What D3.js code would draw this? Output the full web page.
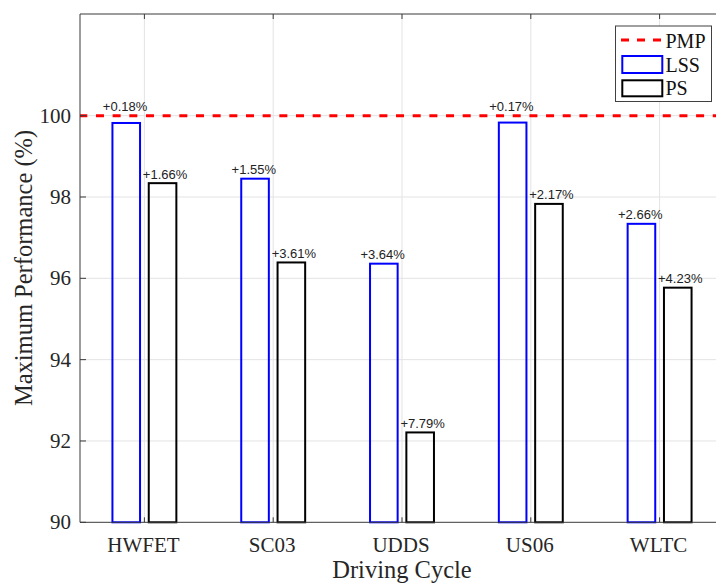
<!DOCTYPE html>
<html><head><meta charset="utf-8">
<script src="https://cdn.jsdelivr.net/npm/d3@7"></script>
<style>body{margin:0;background:#fff}svg{display:block}</style>
</head><body>
<script>
// ---- data ----
const categories = ["HWFET", "SC03", "UDDS", "US06", "WLTC"];
const lssGap = [0.18, 1.55, 3.64, 0.17, 2.66];   // % gap to PMP
const psGap  = [1.66, 3.61, 7.79, 2.17, 4.23];
const lssValues = [99.82, 98.45, 96.36, 99.83, 97.34];
const psValues  = [98.34, 96.39, 92.21, 97.83, 95.77];
const pmpValue = 100;
const yTicks = [90, 92, 94, 96, 98, 100];
const seriesNames = ["PMP", "LSS", "PS"];

const W = 716, H = 583;
const svg = d3.select("body").append("svg").attr("width", W).attr("height", H);

const x = d3.scaleLinear().domain([0.5, 5.5]).range([80, 724]);
const y = d3.scaleLinear().domain([90, 102.5]).range([522.3, 14]);
const serif = "'Liberation Serif','Times New Roman',serif";
const sans = "'Liberation Sans',Arial,sans-serif";
const axisCol = "#3a3a3a";

// grid
const g = svg.append("g");
g.selectAll("line.vg").data(categories).join("line")
  .attr("x1", (d,i)=>x(i+1)).attr("x2", (d,i)=>x(i+1))
  .attr("y1", y(90)).attr("y2", y(102.5))
  .attr("stroke", "#e3e3e3").attr("stroke-width", 1);
g.selectAll("line.hg").data(yTicks.slice(1)).join("line")
  .attr("x1", x(0.5)).attr("x2", x(5.5))
  .attr("y1", d=>y(d)).attr("y2", d=>y(d))
  .attr("stroke", "#e3e3e3").attr("stroke-width", 1);

// bars
const bw = 0.2143, off = 0.141;
const series = [
  {name:"LSS", vals:lssValues, gaps:lssGap, dx:-off, color:"#0000ff", ldx:-1.2},
  {name:"PS", vals:psValues, gaps:psGap, dx:off, color:"#000000", ldx:2.5}
];
series.forEach(s => {
  svg.append("g").selectAll("rect").data(s.vals).join("rect")
    .attr("x", (d,i)=>x(i+1+s.dx-bw/2))
    .attr("width", x(bw)-x(0))
    .attr("y", d=>y(d))
    .attr("height", d=>y(90)-y(d))
    .attr("fill", "none").attr("stroke", s.color).attr("stroke-width", 2);
});

// PMP dashed line
svg.append("line")
  .attr("x1", x(0.5)).attr("x2", x(5.5)).attr("y1", y(pmpValue)).attr("y2", y(pmpValue))
  .attr("stroke", "#ff0000").attr("stroke-width", 3)
  .attr("stroke-dasharray", "8,8.67").attr("stroke-dashoffset", 0.7);

// labels: just above each bar, lifted above the PMP line when the bar reaches it
function labelY(v) {
  const yy = y(v) - 4.5;
  return (yy > y(pmpValue) + 12) ? yy : y(pmpValue) - 4.5;
}
series.forEach(s => {
  svg.append("g").selectAll("text").data(s.vals).join("text")
    .attr("x", (d,i)=>x(i+1+s.dx)+s.ldx)
    .attr("y", d=>labelY(d))
    .attr("text-anchor", "middle")
    .attr("font-family", sans).attr("font-size", 13).attr("fill", "#222")
    .text((d,i)=>"+" + s.gaps[i].toFixed(2) + "%");
});

// axes box
svg.append("line").attr("x1", x(0.5)).attr("x2", x(5.5)).attr("y1", y(90)).attr("y2", y(90)).attr("stroke", axisCol);
svg.append("line").attr("x1", x(0.5)).attr("x2", x(5.5)).attr("y1", y(102.5)).attr("y2", y(102.5)).attr("stroke", axisCol);
svg.append("line").attr("x1", x(0.5)).attr("x2", x(0.5)).attr("y1", y(90)).attr("y2", y(102.5)).attr("stroke", axisCol);

// ticks (inward)
svg.append("g").selectAll("line").data(yTicks).join("line")
  .attr("x1", x(0.5)).attr("x2", x(0.5)+6).attr("y1", d=>y(d)).attr("y2", d=>y(d)).attr("stroke", axisCol);
svg.append("g").selectAll("line").data(categories).join("line")
  .attr("x1", (d,i)=>x(i+1)).attr("x2", (d,i)=>x(i+1)).attr("y1", y(90)).attr("y2", y(90)-5).attr("stroke", axisCol);
svg.append("g").selectAll("line").data(categories).join("line")
  .attr("x1", (d,i)=>x(i+1)).attr("x2", (d,i)=>x(i+1)).attr("y1", y(102.5)).attr("y2", y(102.5)+5).attr("stroke", axisCol);

// tick labels
svg.append("g").selectAll("text").data(yTicks).join("text")
  .attr("x", 71).attr("y", d=>y(d)).attr("dy", "0.34em")
  .attr("text-anchor", "end").attr("font-family", serif).attr("font-size", 21).attr("fill", "#262626")
  .text(d=>d);
svg.append("g").selectAll("text").data(categories).join("text")
  .attr("x", (d,i)=>x(i+1)-1).attr("y", 552)
  .attr("text-anchor", "middle").attr("font-family", serif).attr("font-size", 21).attr("fill", "#262626")
  .text(d=>d);

// axis titles
svg.append("text").attr("x", 402).attr("y", 578).attr("text-anchor", "middle")
  .attr("font-family", serif).attr("font-size", 24.5).attr("fill", "#262626").text("Driving Cycle");
svg.append("text").attr("transform", "translate(32,268) rotate(-90)").attr("text-anchor", "middle")
  .attr("font-family", serif).attr("font-size", 24.5).attr("fill", "#262626").text("Maximum Performance (%)");

// legend
const lg = svg.append("g");
lg.append("rect").attr("x", 615.5).attr("y", 26).attr("width", 96).attr("height", 75.5)
  .attr("fill", "#fff").attr("stroke", "#404040").attr("stroke-width", 1);
lg.append("line").attr("x1", 621).attr("x2", 662).attr("y1", 40).attr("y2", 40)
  .attr("stroke", "#ff0000").attr("stroke-width", 3).attr("stroke-dasharray", "8,8");
lg.append("rect").attr("x", 622.3).attr("y", 56).attr("width", 40).attr("height", 17)
  .attr("fill", "none").attr("stroke", "#0000ff").attr("stroke-width", 2);
lg.append("rect").attr("x", 622.3).attr("y", 80.3).attr("width", 40).attr("height", 16)
  .attr("fill", "none").attr("stroke", "#000").attr("stroke-width", 2);
lg.selectAll("text").data(seriesNames).join("text")
  .attr("x", 665.5).attr("y", (d,i)=>[47.5, 71.5, 94.5][i])
  .attr("font-family", serif).attr("font-size", 20).attr("fill", "#111").text(d=>d);
</script>
</body></html>
